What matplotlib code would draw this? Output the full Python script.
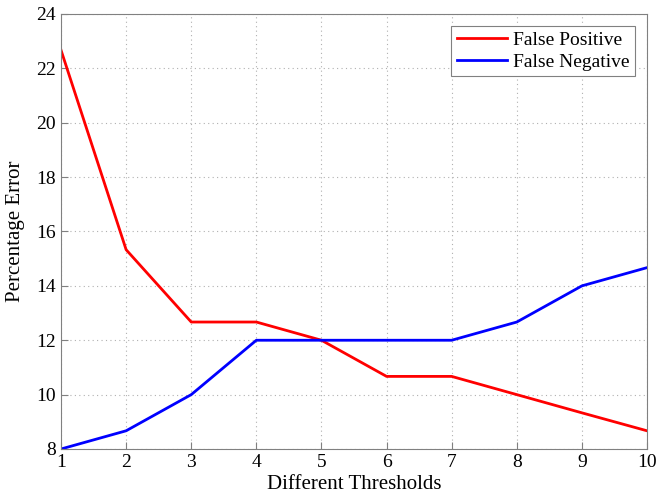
import matplotlib
matplotlib.use("Agg")
import matplotlib.pyplot as plt

thresholds = [1, 2, 3, 4, 5, 6, 7, 8, 9, 10]
false_positive = [22.67, 15.33, 12.67, 12.67, 12.0, 10.67, 10.67, 10.0, 9.33, 8.67]
false_negative = [8.0, 8.67, 10.0, 12.0, 12.0, 12.0, 12.0, 12.67, 14.0, 14.67]
yticks = [8, 10, 12, 14, 16, 18, 20, 22, 24]

plt.rcParams['font.family'] = ['Liberation Serif', 'DejaVu Serif']
fig = plt.figure(figsize=(6.59, 4.94), dpi=100)
ax = fig.add_axes([0.0926, 0.0911, 0.8892, 0.8806])
ax.plot(thresholds, false_positive, color='#ff0000', lw=2, label='False Positive')
ax.plot(thresholds, false_negative, color='#0000ff', lw=2, label='False Negative')
ax.set_xlim(1, 10)
ax.set_ylim(8, 24)
ax.set_xticks(thresholds)
ax.set_yticks(yticks)
ax.grid(True, linestyle=(0, (1, 3)), color='#b0b0b0', lw=0.8)
for s in ax.spines.values():
    s.set_color('#808080')
ax.tick_params(direction='in', colors='#808080', labelcolor='black', labelsize=14, length=5)
ax.set_xlabel('Different Thresholds', fontsize=15, labelpad=3)
ax.set_ylabel('Percentage Error', fontsize=15)
ax.yaxis.set_label_coords(-0.061, 0.5)
leg = ax.legend(loc='upper right', fontsize=14, fancybox=False, framealpha=1,
                edgecolor='#808080', borderaxespad=0.6, handlelength=2.6,
                labelspacing=0.2, borderpad=0.3, handletextpad=0.3)
leg.get_frame().set_linewidth(0.8)
fig.savefig('out.png', dpi=100)
